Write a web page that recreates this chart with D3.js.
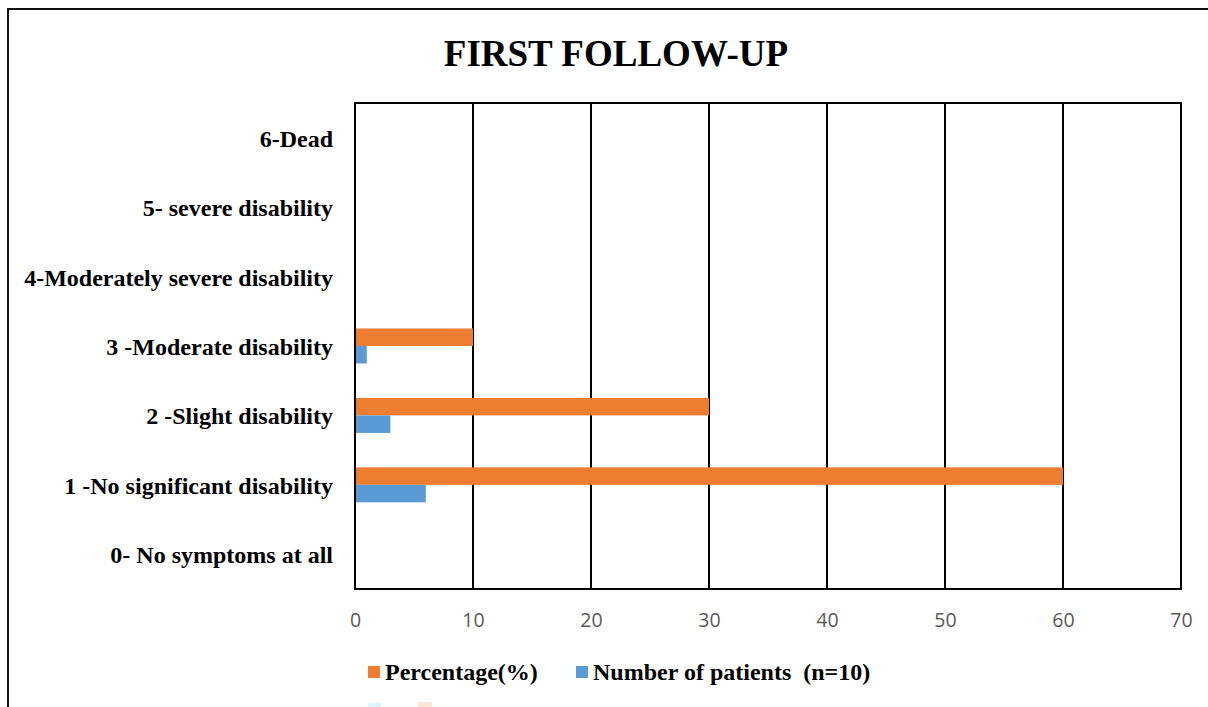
<!doctype html>
<html lang="en">
<head>
  <meta charset="utf-8">
  <title>First follow-up</title>
  <style>
    body { margin: 0; background: #fff; }
    .cat-label { font: bold 24px "Liberation Serif", "Times New Roman", serif; fill: #000; }
    .tick text { font-family: "Open Sans", "Liberation Sans", sans-serif; font-size: 19.5px; fill: #595959; }
    .legend text { font: bold 24px "Liberation Serif", "Times New Roman", serif; fill: #000; }
  </style>
</head>
<body>
  <div id="chart"></div>
  <script src="https://d3js.org/d3.v7.min.js"></script>
  <script>
// categories from top to bottom
const categories = [
  '6-Dead',
  '5- severe disability',
  '4-Moderately severe disability',
  '3 -Moderate disability',
  '2 -Slight disability',
  '1 -No significant disability',
  '0- No symptoms at all'
];
const percentage = [0, 0, 0, 10, 30, 60, 0];
const patients = [0, 0, 0, 1, 3, 6, 0];
const xTicks = [0, 10, 20, 30, 40, 50, 60, 70];
const seriesNames = ['Percentage(%)', 'Number of patients  (n=10)'];
const colors = ['#ed7d31', '#5b9bd5'];

const width = 1208, height = 707;
const plot = { left: 355, top: 103, right: 1181, bottom: 589 };

const svg = d3.select('#chart').append('svg')
  .attr('width', width)
  .attr('height', height);

// outer frame (runs off right and bottom edge like the source)
svg.append('path')
  .attr('d', `M8,${height + 2} V9 H${width + 2}`)
  .attr('fill', 'none')
  .attr('stroke', '#111')
  .attr('stroke-width', 2);

svg.append('text')
  .attr('x', 616).attr('y', 66)
  .attr('text-anchor', 'middle')
  .style('font', 'bold 37px "Liberation Serif", "Times New Roman", serif')
  .text('FIRST FOLLOW-UP');

const x = d3.scaleLinear().domain([0, 70]).range([plot.left, plot.right]);
const y = d3.scaleBand().domain(categories).range([plot.top, plot.bottom]);

// vertical gridlines
svg.append('g')
  .selectAll('line')
  .data(xTicks)
  .join('line')
  .attr('x1', d => x(d)).attr('x2', d => x(d))
  .attr('y1', plot.top).attr('y2', plot.bottom)
  .attr('stroke', '#000')
  .attr('stroke-width', 2);

// plot frame
svg.append('rect')
  .attr('x', plot.left).attr('y', plot.top)
  .attr('width', plot.right - plot.left).attr('height', plot.bottom - plot.top)
  .attr('fill', 'none')
  .attr('stroke', '#000')
  .attr('stroke-width', 2);

// bars: orange above the band centre, blue below
const series = [percentage, patients];
const barH = 17.5;
series.forEach((vals, s) => {
  svg.append('g')
    .selectAll('rect')
    .data(vals)
    .join('rect')
    .attr('x', x(0) + 1)
    .attr('y', (d, i) => y(categories[i]) + y.bandwidth() / 2 - barH + s * barH)
    .attr('width', d => Math.max(0, x(d) - x(0) - 1))
    .attr('height', barH)
    .attr('fill', colors[s]);
});

// x axis labels
const xAxis = svg.append('g')
  .attr('transform', `translate(0,${plot.bottom})`)
  .call(d3.axisBottom(x).tickValues(xTicks).tickSize(0).tickPadding(24));
xAxis.select('.domain').remove();

// category labels
svg.append('g')
  .selectAll('text')
  .data(categories)
  .join('text')
  .attr('class', 'cat-label')
  .attr('x', 333)
  .attr('y', d => y(d) + y.bandwidth() / 2 + 9)
  .attr('text-anchor', 'end')
  .text(d => d);

// legend
const legend = svg.append('g').attr('class', 'legend');
const legendX = [368, 576];
seriesNames.forEach((name, s) => {
  legend.append('rect')
    .attr('x', legendX[s]).attr('y', 666)
    .attr('width', 12).attr('height', 12)
    .attr('fill', colors[s]);
  legend.append('text')
    .attr('x', legendX[s] + 17).attr('y', 680)
    .attr('xml:space', 'preserve')
    .style('white-space', 'pre')
    .text(name);
});

// faint scan artifacts at the bottom
svg.append('rect').attr('x', 368).attr('y', 703).attr('width', 13).attr('height', 4).attr('fill', '#d8f6fa');
svg.append('rect').attr('x', 418).attr('y', 702).attr('width', 14).attr('height', 5).attr('fill', '#fde6d6');
  </script>
</body>
</html>
